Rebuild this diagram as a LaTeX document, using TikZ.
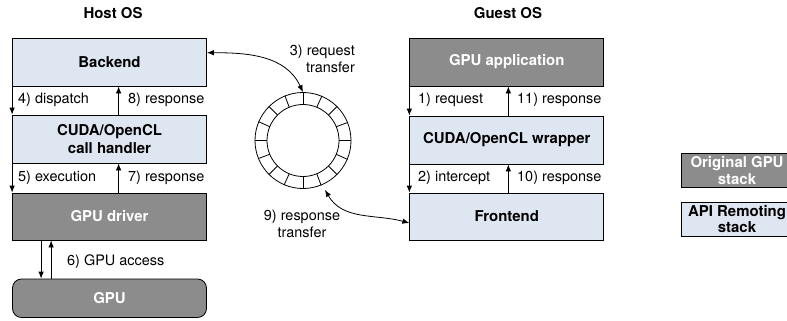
\documentclass[tikz,border=0pt]{standalone}
\usepackage{fontspec}
\setmainfont{TeX Gyre Heros}
\usetikzlibrary{positioning}
\usetikzlibrary{arrows.meta}
\usetikzlibrary{calc}
\definecolor{apiblue}{HTML}{DEE6F1}
\definecolor{gpugray}{HTML}{8C8C8C}
\tikzset{
  layer/.style={draw=black, line width=0.8pt, minimum width=194bp, minimum height=48bp,
    inner sep=0pt, align=center, font=\fontsize{15}{18}\selectfont\bfseries},
  remote/.style={layer, fill=apiblue},
  native/.style={layer, fill=gpugray, text=white},
  legendbox/.style={minimum width=112bp, minimum height=34bp, font=\fontsize{15}{16.5}\selectfont\bfseries},
  steplabel/.style={inner sep=0pt, anchor=west, font=\fontsize{14.5}{17}\selectfont},
  oslabel/.style={font=\fontsize{15}{18}\selectfont\bfseries},
  flow/.style={line width=0.8pt, -{Latex[length=7bp,width=5.5bp]}},
  duplex/.style={line width=0.8pt, {Latex[length=7bp,width=5.5bp]}-{Latex[length=7bp,width=5.5bp]}},
}

\begin{document}
\begin{tikzpicture}[x=1bp,y=1bp]
  \useasboundingbox (0,0) rectangle (787,320);
  % host side
  \node[oslabel] (host) at (113,307) {Host OS};
  \node[remote] (backend) at (109.5,258) {Backend};
  \node[remote] (handler) at (109.5,181) {CUDA/OpenCL\\call handler};
  \node[native, minimum height=47bp] (driver) at (109.5,103.5) {GPU driver};
  \node[native, minimum height=38.5bp, rounded corners=9bp] (gpu) at (109.5,21.75) {GPU};
  \draw[flow] (backend.south west) -- (handler.north west);
  \draw[flow] ([xshift=106.5bp]handler.north west) -- ([xshift=106.5bp]backend.south west);
  \draw[flow] (handler.south west) -- (driver.north west);
  \draw[flow] ([xshift=106.5bp]driver.north west) -- ([xshift=106.5bp]handler.south west);
  \draw[flow] ([xshift=29bp]driver.south west) -- ([xshift=29bp]gpu.north west);
  \draw[flow] ([xshift=39bp]gpu.north west) -- ([xshift=39bp]driver.south west);
  \node[steplabel] (dispatch) at (18,220) {4) dispatch};
  \node[steplabel] (resp8) at (128,220) {8) response};
  \node[steplabel] (execution) at (18,142) {5) execution};
  \node[steplabel] (resp7) at (128,142) {7) response};
  \node[steplabel] (access) at (67,58) {6) GPU access};
  % guest side
  \node[oslabel] (guest) at (508,307) {Guest OS};
  \node[native] (app) at (506.75,258) {GPU application};
  \node[remote] (wrapper) at (506.75,180) {CUDA/OpenCL wrapper};
  \node[remote, minimum height=47bp] (frontend) at (506.75,103.5) {Frontend};
  \draw[flow] (app.south west) -- (wrapper.north west);
  \draw[flow] ([xshift=99bp]wrapper.north west) -- ([xshift=99bp]app.south west);
  \draw[flow] (wrapper.south west) -- (frontend.north west);
  \draw[flow] ([xshift=99bp]frontend.north west) -- ([xshift=99bp]wrapper.south west);
  \node[steplabel] (request) at (418,220) {1) request};
  \node[steplabel] (resp11) at (517,220) {11) response};
  \node[steplabel] (intercept) at (418,142) {2) intercept};
  \node[steplabel] (resp10) at (517,142) {10) response};
  % shared ring
  \node[circle, draw, line width=0.8pt, minimum size=96bp, inner sep=0pt] (ring) at (303,179.5) {};
  \draw[line width=0.8pt] (ring.center) circle (36bp);
  \foreach \a in {0,22.5,...,337.5}
    \draw[line width=0.8pt] ($(ring.center)+(\a:36bp)$) -- (ring.\a);
  \coordinate (ringlow) at ($(ring.center)+(-66:54bp)$);
  \draw[duplex] ([yshift=9.3bp]backend.east) to[out=0,in=115] (ring.north);
  \draw[duplex] (ringlow) to[out=-60,in=165] ([yshift=-6.5bp]frontend.west);
  \node[steplabel, anchor=east, align=right] (reqtransfer) at (355,261) {3) request\\transfer};
  \node[steplabel, anchor=center, align=center] (resptransfer) at (302,96.5) {9) response\\transfer};
  % legend
  \node[native, legendbox] (legnative) at (737,149.5) {Original GPU\\stack};
  \node[remote, legendbox] (legremote) at (737,101) {API Remoting\\stack};
\end{tikzpicture}
\end{document}
